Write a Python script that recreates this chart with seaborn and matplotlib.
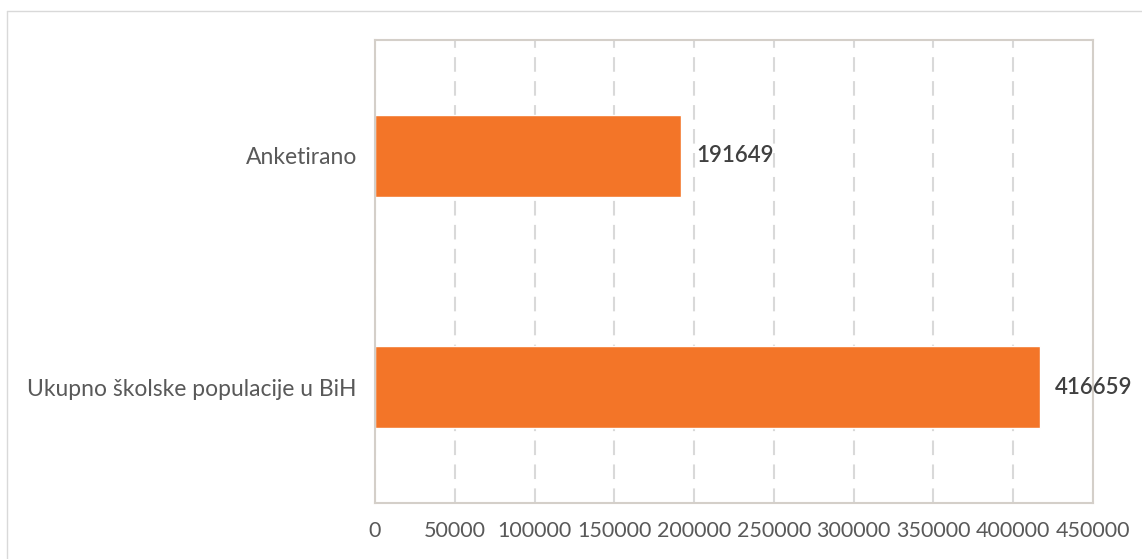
import pandas as pd
import matplotlib.pyplot as plt
import seaborn as sns
from matplotlib.lines import Line2D

# podaci
kategorije = ['Anketirano', 'Ukupno školske populacije u BiH']
vrijednosti = [191649, 416659]
x_ticks = [0, 50000, 100000, 150000, 200000, 250000, 300000, 350000, 400000, 450000]

df = pd.DataFrame({'kategorija': kategorije, 'broj': vrijednosti})

sns.set_style('white')
plt.rcParams['font.family'] = ['Lato', 'DejaVu Sans']

fig = plt.figure(figsize=(11.42, 5.59), dpi=100)
ax = fig.add_axes([0.3284, 0.1002, 0.6286, 0.8282])

sns.barplot(data=df, x='broj', y='kategorija', orient='h', color='#F37528',
            saturation=1, width=0.355, ax=ax)

ax.set_xlim(0, 450000)
ax.set_xticks(x_ticks)
ax.set_xticklabels([str(t) for t in x_ticks])
ax.set_xlabel('')
ax.set_ylabel('')

ax.grid(axis='x', color='#d9d9d9', linewidth=1.5, linestyle=(0, (7, 4.5)))
ax.set_axisbelow(True)
for s in ax.spines.values():
    s.set_color('#d4cfc9')
    s.set_linewidth(1.5)

ax.tick_params(axis='x', length=0, pad=13, labelsize=15.5, labelcolor='#595959')
ax.tick_params(axis='y', length=0, pad=13, labelsize=16.5, labelcolor='#595959')

# oznake vrijednosti
for c in ax.containers:
    ax.bar_label(c, labels=[str(v) for v in vrijednosti], padding=11,
                 fontsize=16, color='#404040', fontweight='semibold')

# vanjski okvir
fig.add_artist(Line2D([7 / 1142, 7 / 1142], [0, 1 - 11 / 559],
                      transform=fig.transFigure, color='#d9d9d9', lw=1))
fig.add_artist(Line2D([7 / 1142, 1], [1 - 11 / 559, 1 - 11 / 559],
                      transform=fig.transFigure, color='#d9d9d9', lw=1))

plt.savefig('out.png', dpi=100)
